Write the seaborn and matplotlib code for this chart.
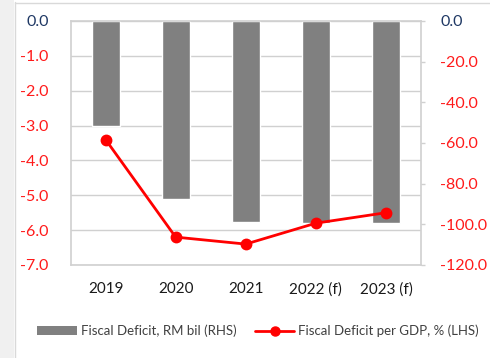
import numpy as np
import matplotlib
matplotlib.use("Agg")
import matplotlib.pyplot as plt
import seaborn as sns
from matplotlib.patches import Patch, Rectangle
from matplotlib.lines import Line2D

years = ["2019", "2020", "2021", "2022 (f)", "2023 (f)"]
deficit_rm_bil = [-51.5, -87.6, -98.7, -99.5, -99.1]
deficit_pct_gdp = [-3.4, -6.2, -6.4, -5.8, -5.5]
left_ticks = [0.0, -1.0, -2.0, -3.0, -4.0, -5.0, -6.0, -7.0]
right_ticks = [0.0, -20.0, -40.0, -60.0, -80.0, -100.0, -120.0]
bar_label = "Fiscal Deficit, RM bil (RHS)"
line_label = "Fiscal Deficit per GDP, % (LHS)"

sns.set_theme(style="white")
plt.rcParams["font.family"] = ["Lato", "DejaVu Sans"]

PX = 72 / 100  # points per pixel

fig = plt.figure(figsize=(4.9, 3.58), dpi=100, facecolor="white")
ax = fig.add_axes([70.5 / 490, 1 - 265 / 358, (421 - 70.5) / 490, (265 - 21) / 358])
ax2 = ax.twinx()

GRAY = "#d0d0d0"
RED = "#ff1a1a"
DARK = "#1f3864"

# bars (RHS)
sns.barplot(x=years, y=deficit_rm_bil, ax=ax2, color="#808080", saturation=1,
            width=0.4, order=years)
ax2.set_ylim(-120, 0)
# horizontal gridlines behind bars, aligned with LHS ticks
for t in left_ticks:
    ax2.axhline(t * 120 / 7, color=GRAY, lw=1, zorder=0)

# line (LHS)
sns.pointplot(x=years, y=deficit_pct_gdp, ax=ax, color="red", order=years,
              markers="o", linestyles="-", markersize=7, linewidth=2)
ax.set_ylim(-7, 0)
ax.set_zorder(ax2.get_zorder() + 1)
ax.patch.set_visible(False)
ax.set_xlim(-0.5, 4.5)

# left axis
ax.set_yticks(left_ticks, [f"{v:.1f}" for v in left_ticks])
ax.tick_params(axis="y", length=0, pad=22 * PX, labelsize=11.5)
for lab, v in zip(ax.get_yticklabels(), left_ticks):
    lab.set_color(DARK if v == 0 else RED)

# right axis
ax2.set_yticks(right_ticks, [f"{v:.1f}" for v in right_ticks])
ax2.tick_params(axis="y", length=4 * PX, width=1, color=GRAY, pad=15 * PX,
                labelsize=11.5, direction="out")
for lab, v in zip(ax2.get_yticklabels(), right_ticks):
    lab.set_color(DARK if v == 0 else RED)

# x axis
ax.tick_params(axis="x", length=0, pad=17 * PX, labelsize=11, labelcolor="#1a1a1a")
ax.set_xlabel("")
ax.set_ylabel("")
ax2.set_ylabel("")
ax2.set_xlabel("")

for s in ["left", "bottom", "top"]:
    ax.spines[s].set_color(GRAY)
    ax.spines[s].set_linewidth(1.2)
ax.spines["right"].set_visible(False)
for s in ["left", "bottom", "top"]:
    ax2.spines[s].set_visible(False)
ax2.spines["right"].set_color(GRAY)
ax2.spines["right"].set_linewidth(1.2)

# legend
handles = [Patch(facecolor="#808080", edgecolor="none"),
           Line2D([0], [0], color="red", lw=2, marker="o", markersize=6.5)]
fig.legend(handles, [bar_label, line_label], loc="center",
           bbox_to_anchor=(258 / 490, 1 - 331 / 358), ncol=2, frameon=False,
           fontsize=9.5, handlelength=3.0, handleheight=0.6, columnspacing=1.4,
           handletextpad=0.3, labelcolor="#404040")

# outer frame decoration
fig.add_artist(Rectangle((0, 0), 14 / 490, 1, transform=fig.transFigure,
                         facecolor="#f0f0f0", edgecolor="none", zorder=-1))
fig.add_artist(Line2D([14.5 / 490, 14.5 / 490], [0, 1 - 2 / 358],
                      transform=fig.transFigure, color="#d9d9d9", lw=1))
fig.add_artist(Line2D([14.5 / 490, 1], [1 - 2.5 / 358, 1 - 2.5 / 358],
                      transform=fig.transFigure, color="#d9d9d9", lw=1))

fig.savefig("out.png", dpi=100, facecolor="white")
